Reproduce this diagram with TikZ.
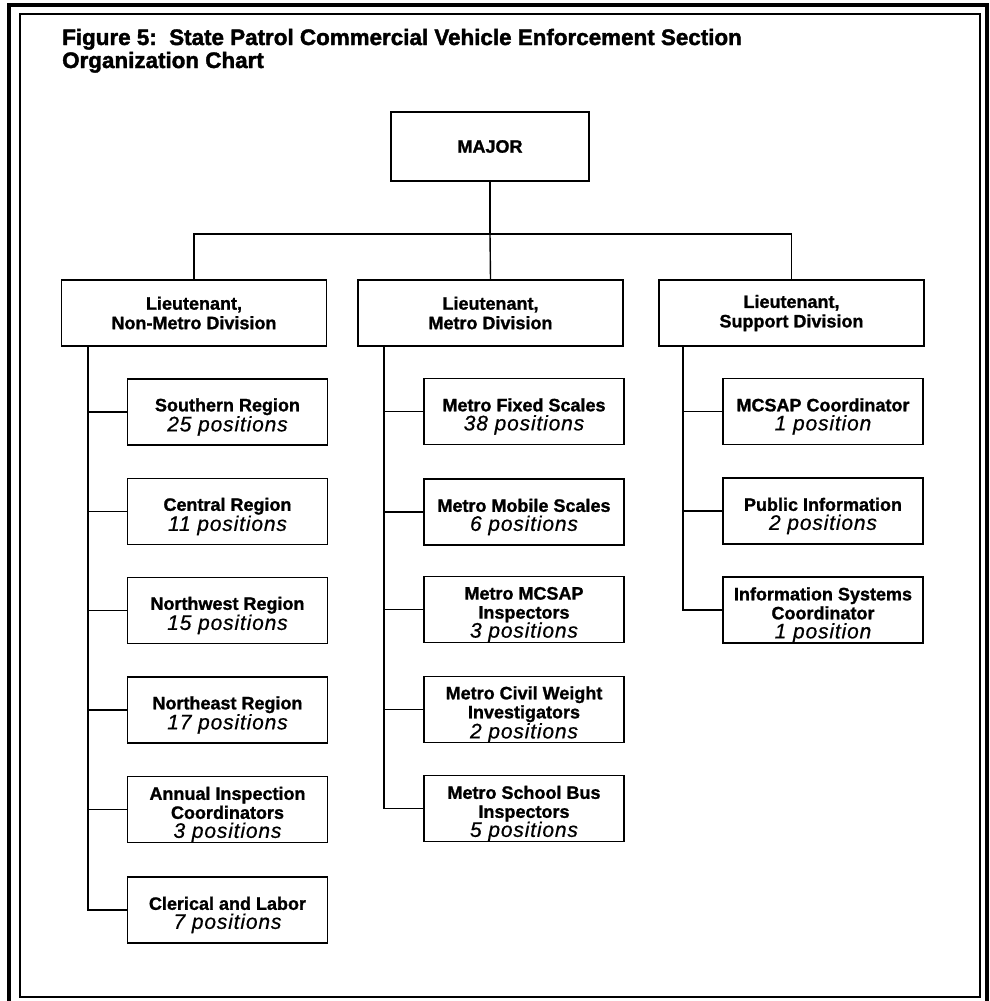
\documentclass[tikz,border=0pt]{standalone}
\usepackage{fontspec}
\setmainfont{Liberation Sans}
\newfontfamily\boldheavy[FakeBold=1.2]{Liberation Sans Bold}
\newfontfamily\titleheavy[FakeBold=1.8]{Liberation Sans Bold}
\newfontfamily\posfont[LetterSpace=4,FakeBold=0.6]{Liberation Sans Italic}
\begin{document}
\begin{tikzpicture}[x=1pt,y=-1pt,
  frame/.style={line width=#1, line join=miter},
  box/.style={draw, line width=1.6pt, inner sep=0pt, minimum height=66pt, align=center,
    font=\fontsize{18}{19.5}\boldheavy},
  kidbox/.style={draw, line width=1.6pt, inner sep=0pt, minimum width=200pt, minimum height=66pt},
  kidtxt/.style={inner sep=0pt, align=center, yshift=-5pt,
    font=\fontsize{18}{19}\boldheavy},
  conn/.style={line width=1.4pt},
  ttl/.style={anchor=base west, inner sep=0pt, font=\fontsize{22.4}{23}\titleheavy}
]
\newcommand\pos[1]{{\fontsize{21}{19}\posfont #1}}
\useasboundingbox (0,0) rectangle (989,1001);
% frame
\draw[frame=3.5pt] (9,1010) -- (9,5) -- (987,5) -- (987,1010);
\draw[frame=2pt] (20,14) rectangle (980,997);
% title
\node[ttl] (t1) at (62,45) {Figure 5:\ \ State Patrol Commercial Vehicle Enforcement Section};
\node[ttl] (t2) at (62,68) {Organization Chart};
% top
\node[box, minimum width=198pt, minimum height=69pt] (major) at (490,146.5) {\raisebox{-3pt}{MAJOR}};
\node[box, minimum width=265pt] (nm) at (194,313) {Lieutenant,\\Non-Metro Division};
\node[box, minimum width=265pt] (met) at (490.5,313) {Lieutenant,\\Metro Division};
\node[box, minimum width=265pt] (sup) at (791.5,313) {Lieutenant,\\Support Division};
\coordinate (bus) at (490,234);
\draw[conn] (major.south) -- (bus);
\draw[conn] (nm.north) |- (bus) -| (sup.north);
\draw[conn] (bus) -- (met.north);
% Non-Metro children
\node[kidbox] (sr) at (227.5,412) {};
\node[kidtxt] (srt) at (sr) {Southern Region\\\pos{25 positions}};
\node[kidbox] (cr) at (227.5,511.5) {};
\node[kidtxt] (crt) at (cr) {Central Region\\\pos{11 positions}};
\node[kidbox] (nwr) at (227.5,610.5) {};
\node[kidtxt] (nwrt) at (nwr) {Northwest Region\\\pos{15 positions}};
\node[kidbox] (ner) at (227.5,710) {};
\node[kidtxt] (nert) at (ner) {Northeast Region\\\pos{17 positions}};
\node[kidbox] (aic) at (227.5,809.5) {};
\node[kidtxt] (aict) at (aic) {Annual Inspection\\Coordinators\\\pos{3 positions}};
\node[kidbox] (cl) at (227.5,910) {};
\node[kidtxt] (clt) at (cl) {Clerical and Labor\\\pos{7 positions}};
\coordinate (nmS) at (88,346);
\draw[conn] (nmS) |- (cl.west);
\foreach \k in {sr,cr,nwr,ner,aic} \draw[conn] (nmS |- \k.west) -- (\k.west);
% Metro children
\node[kidbox] (mfs) at (524,411.5) {};
\node[kidtxt] (mfst) at (mfs) {Metro Fixed Scales\\\pos{38 positions}};
\node[kidbox] (mms) at (524,512) {};
\node[kidtxt] (mmst) at (mms) {Metro Mobile Scales\\\pos{6 positions}};
\node[kidbox] (mmi) at (524,609.5) {};
\node[kidtxt] (mmit) at (mmi) {Metro MCSAP\\Inspectors\\\pos{3 positions}};
\node[kidbox] (mcw) at (524,709.5) {};
\node[kidtxt] (mcwt) at (mcw) {Metro Civil Weight\\Investigators\\\pos{2 positions}};
\node[kidbox] (msb) at (524,808.5) {};
\node[kidtxt] (msbt) at (msb) {Metro School Bus\\Inspectors\\\pos{5 positions}};
\coordinate (metS) at (384,346);
\draw[conn] (metS) |- (msb.west);
\foreach \k in {mfs,mms,mmi,mcw} \draw[conn] (metS |- \k.west) -- (\k.west);
% Support children
\node[kidbox] (mc) at (823,411.5) {};
\node[kidtxt] (mct) at (mc) {MCSAP Coordinator\\\pos{1 position}};
\node[kidbox] (pi) at (823,511) {};
\node[kidtxt] (pit) at (pi) {Public Information\\\pos{2 positions}};
\node[kidbox] (isc) at (823,610) {};
\node[kidtxt] (isct) at (isc) {Information Systems\\Coordinator\\\pos{1 position}};
\coordinate (supS) at (683,346);
\draw[conn] (supS) |- (isc.west);
\foreach \k in {mc,pi} \draw[conn] (supS |- \k.west) -- (\k.west);
\end{tikzpicture}
\end{document}
